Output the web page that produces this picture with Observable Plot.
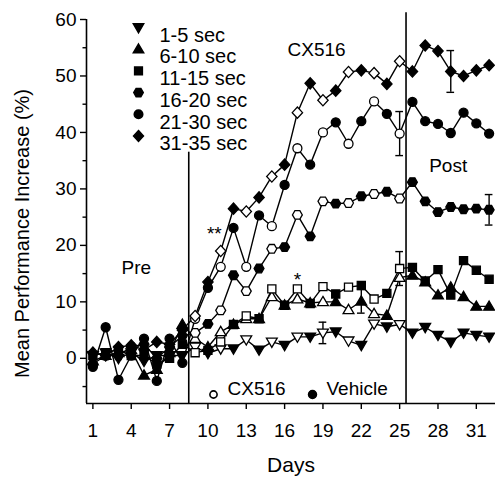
<!DOCTYPE html>
<html>
<head>
<meta charset="utf-8">
<script src="https://cdn.jsdelivr.net/npm/d3@7"></script>
<script src="https://cdn.jsdelivr.net/npm/@observablehq/plot@0.6"></script>
<style>
  html, body { margin: 0; padding: 0; background: white; }
  #chart { width: 495px; height: 478px; }
</style>
</head>
<body>
<div id="chart"></div>
<script>
// ---- data ----
const days = [1,2,3,4,5,6,7,8,9,10,11,12,13,14,15,16,17,18,19,20,21,22,23,24,25,26,27,28,29,30,31,32];
const seriesNames = ["1-5 sec", "6-10 sec", "11-15 sec", "16-20 sec", "21-30 sec", "31-35 sec"];
const s1_5   = [0.5, 1.0, 0.0, 1.0, -0.5, 0.5, 0.5, 0.5, 2.0, 0.9, 1.7, 1.7, 3.3, 1.5, 2.9, 2.3, 3.8, 3.8, 4.5, 4.7, 3.1, 2.3, 6.1, 5.6, 6.0, 4.5, 5.5, 4.1, 2.9, 4.5, 4.1, 3.8];
const s6_10  = [-0.5, 0.5, 1.0, 1.5, -3.0, -2.0, 1.0, 6.0, 3.5, 2.0, 4.7, 6.0, 7.0, 7.0, 10.9, 9.4, 10.5, 9.8, 10.0, 10.0, 8.6, 10.1, 7.9, 7.6, 14.3, 14.7, 13.5, 11.2, 12.6, 10.9, 9.2, 9.2];
const s11_15 = [0.5, 1.0, 1.5, 0.5, 0.5, -1.0, 0.0, 2.5, 1.0, 1.4, 2.9, 6.0, 7.5, 7.0, 12.3, 9.4, 12.3, 9.7, 12.7, 11.4, 12.6, 12.9, 10.5, 11.5, 15.9, 16.1, 13.7, 15.7, 11.2, 17.3, 15.6, 14.0];
const s16_20 = [-1.0, 0.5, 0.5, 2.0, 2.5, 0.0, 2.0, 4.0, 4.5, 6.1, 8.5, 14.7, 11.9, 15.9, 19.4, 19.7, 25.4, 21.6, 27.8, 27.4, 27.5, 28.7, 29.1, 29.5, 28.3, 31.2, 27.8, 25.9, 26.8, 26.4, 26.5, 26.3];
const s21_30 = [-1.5, 5.5, -3.8, 0.5, 3.5, -4.0, 3.5, -0.8, 7.0, 12.5, 16.2, 23.1, 16.2, 25.3, 23.4, 30.7, 37.2, 34.3, 40.0, 41.8, 38.0, 42.0, 45.5, 43.3, 39.8, 45.4, 42.0, 41.5, 39.9, 43.5, 41.6, 39.8];
const s31_35 = [1.0, 0.5, 2.0, 2.3, 1.5, 2.9, 2.5, 5.0, 7.5, 13.5, 19.0, 26.5, 26.0, 28.5, 32.2, 34.3, 43.5, 48.7, 45.7, 47.4, 50.7, 51.0, 50.5, 48.6, 52.6, 50.8, 55.4, 54.4, 50.8, 50.0, 51.0, 51.9];
const seriesValues = [s1_5, s6_10, s11_15, s16_20, s21_30, s31_35];
const cx516Days = [9, 11, 13, 15, 17, 19, 21, 23, 25];   // open symbols
const phaseBounds = [8.5, 25.5];
const phaseTops = [36.5, 61.2];
const errSeries = ["31-35 sec", "21-30 sec", "16-20 sec", "11-15 sec", "6-10 sec", "1-5 sec"];
const errDays   = [29, 25, 32, 25, 22, 19];
const errSizes  = [3.7, 3.9, 2.7, 3.0, 2.1, 1.9];
const yTicks = [0, 10, 20, 30, 40, 50, 60];
const yMinorTicks = [-5, 5, 15, 25, 35, 45, 55];
const xTicks = [1, 4, 7, 10, 13, 16, 19, 22, 25, 28, 31];
const notes = [
  {text: "Pre",   day: 4.4,  value: 16.0},
  {text: "CX516", day: 18.5, value: 54.7},
  {text: "Post",  day: 28.8, value: 34.0},
  {text: "**",    day: 10.5, value: 22.0},
  {text: "*",     day: 17.0, value: 13.8}
];
const treatLegend = ["CX516", "Vehicle"];

// ---- symbols ----
const mk = (fn) => ({draw(ctx, size) { const r = Math.sqrt(size / Math.PI); fn(ctx, r); }});
const poly = (ctx, pts) => { ctx.moveTo(pts[0][0], pts[0][1]); for (let i = 1; i < pts.length; i++) ctx.lineTo(pts[i][0], pts[i][1]); ctx.closePath(); };
const symTriDown = mk((c, r) => poly(c, [[-1.2*r, -0.85*r], [1.2*r, -0.85*r], [0, 1.2*r]]));
const symTriUp   = mk((c, r) => poly(c, [[0, -1.2*r], [1.2*r, 0.85*r], [-1.2*r, 0.85*r]]));
const symSquare  = mk((c, r) => poly(c, [[-0.9*r, -0.9*r], [0.9*r, -0.9*r], [0.9*r, 0.9*r], [-0.9*r, 0.9*r]]));
const symHex     = mk((c, r) => poly(c, d3.range(6).map(i => [1.1*r*Math.cos(i*Math.PI/3), 1.1*r*Math.sin(i*Math.PI/3)])));
const symCircle  = mk((c, r) => { c.moveTo(r, 0); c.arc(0, 0, r, 0, 2*Math.PI); });
const symDiamond = mk((c, r) => poly(c, [[0, -1.25*r], [1.15*r, 0], [0, 1.25*r], [-1.15*r, 0]]));
const seriesSymbols = [symTriDown, symTriUp, symSquare, symHex, symCircle, symDiamond];

// ---- table ----
const table = [];
seriesNames.forEach((name, si) => {
  days.forEach((day, di) => {
    table.push({series: name, si, day, value: seriesValues[si][di], open: cx516Days.includes(day)});
  });
});
const errTable = errSeries.map((s, i) => {
  const row = table.find(d => d.series === s && d.day === errDays[i]);
  return {day: errDays[i], lo: row.value - errSizes[i], hi: row.value + errSizes[i]};
});

const FONT = "'Liberation Sans', Arial, Helvetica, sans-serif";
const marks = [];

// phase separators
marks.push(Plot.ruleX(phaseBounds, {x: d => d, y1: -8, y2: (d, i) => phaseTops[i], stroke: "black", strokeWidth: 1.6}));
// axis lines
marks.push(Plot.ruleX([0.5], {y1: -8, y2: 60, stroke: "black", strokeWidth: 1.6}));
marks.push(Plot.ruleY([-8], {x1: 0.5, x2: 32.5, stroke: "black", strokeWidth: 1.6}));
// axes
marks.push(Plot.axisY(yTicks, {tickSize: 6, tickPadding: 4, label: null, fontSize: 19, strokeWidth: 1.4}));
marks.push(Plot.axisY(yMinorTicks, {tickSize: 3.5, text: null, label: null, strokeWidth: 1.4}));
marks.push(Plot.axisX(xTicks, {tickSize: 6, tickPadding: 14, label: null, fontSize: 19, strokeWidth: 1.4}));

// lines
marks.push(Plot.line(table, {x: "day", y: "value", z: "series", stroke: "black", strokeWidth: 1.4}));
// error bars
marks.push(Plot.ruleX(errTable, {x: "day", y1: "lo", y2: "hi", stroke: "black", strokeWidth: 1.4}));
marks.push(Plot.ruleY(errTable, {y: "lo", x1: d => d.day - 0.3, x2: d => d.day + 0.3, stroke: "black", strokeWidth: 1.4}));
marks.push(Plot.ruleY(errTable, {y: "hi", x1: d => d.day - 0.3, x2: d => d.day + 0.3, stroke: "black", strokeWidth: 1.4}));
// markers
seriesNames.forEach((name, si) => {
  marks.push(Plot.dot(table.filter(d => d.si === si), {
    x: "day", y: "value", symbol: seriesSymbols[si], r: 4.5,
    fill: d => d.open ? "white" : "black", stroke: "black", strokeWidth: 1.3
  }));
});

// annotations
marks.push(Plot.text(notes, {x: "day", y: "value", text: "text", fontSize: 19, fill: "black"}));

// series legend
seriesNames.forEach((name, i) => {
  const dy = 8 + 21.7 * i;
  marks.push(Plot.dot([name], {frameAnchor: "top-left", dx: 52, dy, symbol: seriesSymbols[i], r: 4.3, fill: "black", stroke: "black"}));
  marks.push(Plot.text([name], {frameAnchor: "top-left", dx: 73, dy, text: d => d, textAnchor: "start", fontSize: 20, fill: "black"}));
});
// treatment legend
marks.push(Plot.dot([treatLegend[0]], {frameAnchor: "bottom-left", dx: 127, dy: -9, r: 3.6, fill: "white", stroke: "black", strokeWidth: 1.6}));
marks.push(Plot.text([treatLegend[0]], {frameAnchor: "bottom-left", dx: 141, dy: -9, text: d => d, textAnchor: "start", fontSize: 19, fill: "black"}));
marks.push(Plot.dot([treatLegend[1]], {frameAnchor: "bottom-left", dx: 226, dy: -9, r: 4, fill: "black", stroke: "black"}));
marks.push(Plot.text([treatLegend[1]], {frameAnchor: "bottom-left", dx: 240, dy: -9, text: d => d, textAnchor: "start", fontSize: 19, fill: "black"}));

// axis titles
marks.push(Plot.text(["Mean Performance Increase (%)"], {frameAnchor: "left", dx: -64, dy: 22, rotate: -90, textAnchor: "middle", text: d => d, fontSize: 20, fill: "black"}));
marks.push(Plot.text(["Days"], {frameAnchor: "bottom", dy: 68, text: d => d, fontSize: 21, fill: "black"}));

const chart = Plot.plot({
  width: 495,
  height: 478,
  marginLeft: 86,
  marginRight: 0,
  marginTop: 19,
  marginBottom: 75,
  x: {domain: [0.5, 32.5]},
  y: {domain: [-8, 60]},
  color: {type: "identity"},
  style: {fontFamily: FONT, fontSize: "19px", background: "white", color: "black"},
  marks
});
document.getElementById("chart").appendChild(chart);
</script>
</body>
</html>
